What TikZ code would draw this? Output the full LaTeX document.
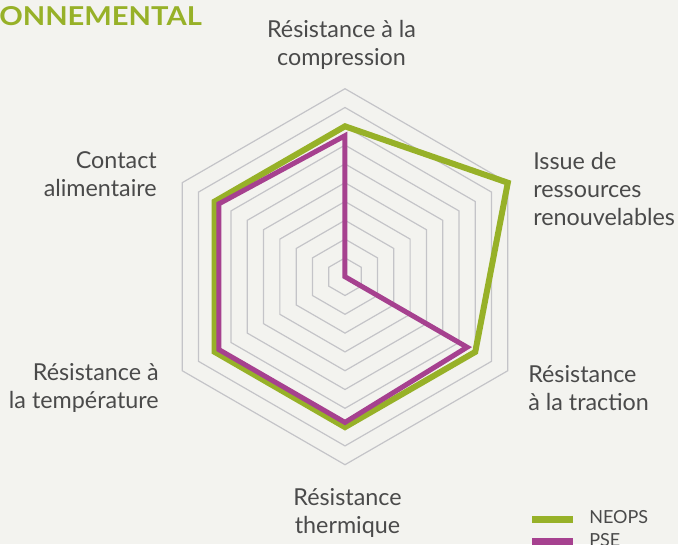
\documentclass[tikz,border=0pt]{standalone}
\usepackage{fontspec}
\setmainfont{Lato}
\definecolor{fond}{HTML}{F3F3EF}
\definecolor{grille}{HTML}{C4C4C8}
\definecolor{vertneops}{HTML}{97B128}
\definecolor{violetpse}{HTML}{A6418F}
\definecolor{texte}{HTML}{4A4A4A}
\newcommand{\Axe}{\fontsize{17.5}{21}\selectfont}
\newcommand{\Legende}{\fontsize{13.5}{18}\selectfont}

\begin{document}
\begin{tikzpicture}[x=0.75pt,y=0.75pt,
  grid/.style={draw=grille,line width=0.9pt,line join=miter},
  axe/.style={text=texte,inner sep=0pt,font=\Axe},
  neops/.style={draw=vertneops,line width=4.5pt,line join=miter},
  pse/.style={draw=violetpse,line width=3.75pt,line join=miter}]
\useasboundingbox (-345,-267.3) rectangle (333,276.7);
\clip (-345,-267.3) rectangle (333,276.7);
\fill[fond] (-345,-267.3) rectangle (333,276.7);

% toile
\foreach \r in {1,...,10}
  \draw[grid] (90:{\r*18.8}) -- (30:{\r*18.8}) -- (-30:{\r*18.8})
    -- (-90:{\r*18.8}) -- (210:{\r*18.8}) -- (150:{\r*18.8}) -- cycle;

% series
\draw[neops] (90:{8*18.8}) -- (30:{10*18.8}) -- (-30:{8*18.8})
  -- (-90:{8*18.8}) -- (210:{8*18.8}) -- (150:{8*18.8}) -- cycle;
\draw[pse] (90:{7.5*18.8}) -- (0,0) -- (-30:{7.5*18.8})
  -- (-90:{7.75*18.8}) -- (210:{7.75*18.8}) -- (150:{7.75*18.8}) -- cycle;

\node[anchor=base west,inner sep=0pt,text=vertneops,xscale=1.12,
  font=\fontsize{19.5}{20}\selectfont\bfseries] (titre) at (-346,251.7)
  {ONNEMENTAL};
\node[axe,align=center] (compression) at (-3.5,232) {Résistance à la\\compression};
\node[axe,align=left,anchor=west] (ressources) at (188,88)
  {Issue de\\ressources\\renouvelables};
\node[axe,align=left,anchor=west] (traction) at (183,-111)
  {Résistance\\à la traction};
\node[axe,align=center] (thermique) at (2.5,-236) {Résistance\\thermique};
\node[axe,align=right,anchor=east] (temperature) at (-186,-111)
  {Résistance à\\la température};
\node[axe,align=right,anchor=east] (contact) at (-188,102.7)
  {Contact\\alimentaire};

% legende
\coordinate (neops-a) at (187,-242.3);
\coordinate (neops-b) at (228,-242.3);
\coordinate (pse-a) at (187,-264.8);
\coordinate (pse-b) at (228,-264.8);
\draw[draw=vertneops,line width=5.25pt] (neops-a) -- (neops-b);
\draw[draw=violetpse,line width=5.25pt] (pse-a) -- (pse-b);
\node[anchor=base west,inner sep=0pt,text=texte,font=\Legende] (neops) at (244,-246.3) {NEOPS};
\node[anchor=base west,inner sep=0pt,text=texte,font=\Legende] (pse) at (244,-270) {PSE};
\end{tikzpicture}
\end{document}
